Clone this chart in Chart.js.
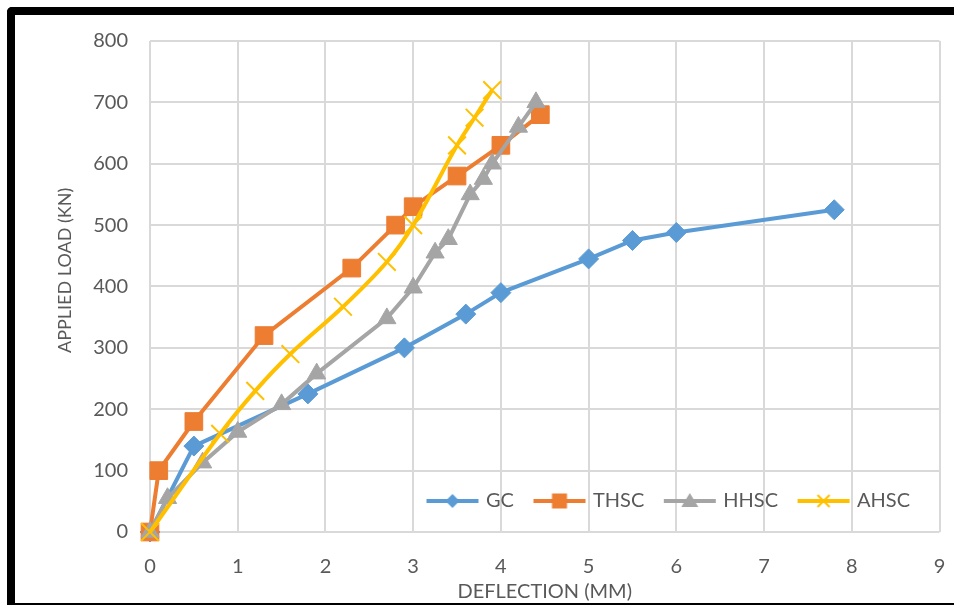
<!DOCTYPE html>
<html>
<head>
<meta charset="utf-8">
<script src="https://cdn.jsdelivr.net/npm/chart.js@4.4.0/dist/chart.umd.min.js"></script>
<style>
html, body { margin: 0; padding: 0; background: #fff; }
#marco { position: relative; width: 954px; height: 605px; overflow: hidden; }
#borde { position: absolute; left: 7px; top: 7px; width: 1000px; height: 598px; box-sizing: border-box;
  border-left: 8px solid #000; border-top: 8px solid #000; border-bottom: 2px solid #000;
  border-top-left-radius: 5px; pointer-events: none; }
#grafico { position: absolute; left: 0; top: 0; }
</style>
</head>
<body>
<div id="marco">
  <canvas id="grafico" width="954" height="605"></canvas>
  <div id="borde"></div>
</div>
<script>
// series
const categorias = ['GC', 'THSC', 'HHSC', 'AHSC'];
const colores = ['#5B9BD5', '#ED7D31', '#A5A5A5', '#FFC000'];
const marcadores = ['rectRot', 'rect', 'triangle', 'crossRot'];
const radios = [10, 12.5, 10.5, 12.5];

const gcX = [0, 0.5, 1.8, 2.9, 3.6, 4, 5, 5.5, 6, 7.8];
const gcY = [0, 140, 225, 300, 355, 390, 445, 475, 488, 525];
const thscX = [0, 0.1, 0.5, 1.3, 2.3, 2.8, 3, 3.5, 4, 4.45];
const thscY = [0, 100, 180, 320, 430, 500, 530, 580, 630, 680];
const hhscX = [0, 0.2, 0.6, 1, 1.5, 1.9, 2.7, 3, 3.25, 3.4, 3.65, 3.8, 3.9, 4.2, 4.4];
const hhscY = [0, 55, 113, 163, 208, 258, 348, 398, 455, 477, 550, 575, 600, 660, 700];
const ahscX = [0, 0.8, 1.2, 1.6, 2.2, 2.7, 3, 3.5, 3.7, 3.9];
const ahscY = [0, 160, 230, 290, 367, 440, 500, 630, 675, 720];

// ejes
const xMin = 0, xMax = 9, xPaso = 1;
const yMin = 0, yMax = 800, yPaso = 100;
const tituloX = 'DEFLECTION (MM)';
const tituloY = 'APPLIED LOAD (KN)';

const fuente = 'Lato, "Open Sans", sans-serif';
const gris = '#595959';
const rejilla = '#D9D9D9';

function puntos(xs, ys) {
    return xs.map((x, i) => ({x: x, y: ys[i]}));
}

const valores = [puntos(gcX, gcY), puntos(thscX, thscY), puntos(hhscX, hhscY), puntos(ahscX, ahscY)];

// icono de la leyenda: linea + marcador
function icono(i) {
    const c = document.createElement('canvas');
    c.width = 54; c.height = 22;
    const g = c.getContext('2d');
    const cx = 27, cy = 11;
    g.strokeStyle = colores[i];
    g.fillStyle = colores[i];
    g.lineWidth = 4;
    g.beginPath(); g.moveTo(1, cy); g.lineTo(53, cy); g.stroke();
    g.beginPath();
    if (marcadores[i] === 'rectRot') {
        g.moveTo(cx, cy - 7); g.lineTo(cx + 7, cy); g.lineTo(cx, cy + 7); g.lineTo(cx - 7, cy);
        g.closePath(); g.fill();
    } else if (marcadores[i] === 'rect') {
        g.fillRect(cx - 7.5, cy - 7.5, 15, 15);
    } else if (marcadores[i] === 'triangle') {
        g.moveTo(cx, cy - 8); g.lineTo(cx + 8.5, cy + 6); g.lineTo(cx - 8.5, cy + 6);
        g.closePath(); g.fill();
    } else {
        g.lineWidth = 2;
        g.moveTo(cx - 6, cy - 6); g.lineTo(cx + 6, cy + 6);
        g.moveTo(cx + 6, cy - 6); g.lineTo(cx - 6, cy + 6);
        g.stroke();
    }
    return c;
}
const iconos = categorias.map((_, i) => icono(i));

const moverLeyenda = {
    id: 'moverLeyenda',
    afterLayout(chart) {
        const lg = chart.legend;
        const a = chart.chartArea;
        lg.left = a.left + 257;
        lg.right = a.right + 10;
        lg.top = a.bottom - 63;
        lg.bottom = a.bottom + 10;
    }
};

const ctx = document.getElementById('grafico').getContext('2d');
new Chart(ctx, {
    type: 'line',
    data: {
        datasets: categorias.map((nombre, i) => ({
            label: nombre,
            data: valores[i],
            borderColor: colores[i],
            backgroundColor: colores[i],
            borderWidth: 4,
            pointStyle: marcadores[i],
            pointRadius: radios[i],
            pointBackgroundColor: colores[i],
            pointBorderColor: colores[i],
            pointBorderWidth: marcadores[i] === 'crossRot' ? 2 : 1,
            tension: nombre === 'AHSC' ? 0.35 : 0,
            order: categorias.length - i,
            clip: false
        }))
    },
    options: {
        responsive: false,
        animation: false,
        devicePixelRatio: 1,
        layout: {padding: {left: 53, right: 13, top: 41, bottom: 0}},
        plugins: {
            tooltip: {enabled: false},
            legend: {
                position: 'bottom',
                align: 'start',
                maxHeight: 0.001,
                labels: {
                    usePointStyle: true,
                    pointStyleWidth: 47,
                    padding: 22,
                    color: gris,
                    font: {family: fuente, size: 20},
                    generateLabels: (chart) => chart.data.datasets.map((ds, i) => ({
                        text: ds.label,
                        pointStyle: iconos[i],
                        fontColor: gris,
                        datasetIndex: i,
                        hidden: false,
                        lineWidth: 0,
                        strokeStyle: 'rgba(0,0,0,0)',
                        fillStyle: 'rgba(0,0,0,0)'
                    }))
                }
            }
        },
        scales: {
            x: {
                type: 'linear',
                min: xMin, max: xMax,
                afterFit: (s) => { s.height = 73; s.paddingLeft = 0; s.paddingRight = 0; },
                ticks: {stepSize: xPaso, color: gris, font: {family: fuente, size: 20}, padding: 23, maxRotation: 0},
                grid: {color: rejilla, lineWidth: 2, drawTicks: false},
                border: {display: false},
                title: {display: true, text: tituloX, color: gris, font: {family: fuente, size: 20}, padding: {top: 0, bottom: 1}}
            },
            y: {
                min: yMin, max: yMax,
                afterFit: (s) => { s.width = 97; },
                ticks: {stepSize: yPaso, color: gris, font: {family: fuente, size: 20}, padding: 22},
                grid: {color: rejilla, lineWidth: 2, drawTicks: false},
                border: {display: false},
                // espacios delante: el titulo queda algo por encima del centro, como en el original
                title: {display: true, text: '       ' + tituloY, color: gris, font: {family: fuente, size: 18}, padding: {top: 1, bottom: 0}}
            }
        }
    },
    plugins: [moverLeyenda]
});
</script>
</body>
</html>
